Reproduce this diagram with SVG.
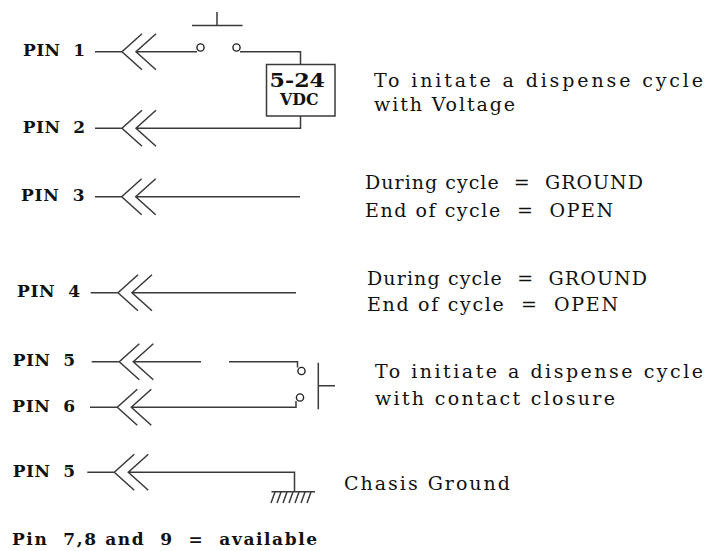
<svg xmlns="http://www.w3.org/2000/svg" width="707" height="551" viewBox="0 0 707 551">
<style>
.w{fill:none;stroke:#3a3a3a;stroke-width:1.5}
.c{fill:#fff;stroke:#222;stroke-width:1.4}
text{font-family:"DejaVu Serif","Liberation Serif",serif;fill:#111}
.p{font-size:17px;font-weight:bold}
.t{font-size:19px}
</style>
<rect width="707" height="551" fill="#fff"/>
<g id="connectors">
<!-- PIN 1 -->
<path class="w" d="M95 51.7H122M142 33.7L122 51.7L142 69.7M156 33.7L136 51.7L156 69.7M136 51.7H197"/>
<path class="w" d="M240 51.7H300.5V64.5M300.5 116V128.3H136M122 128.3H95M142 110.3L122 128.3L142 146.3M156 110.3L136 128.3L156 146.3"/>
<path class="w" d="M192 25.5H242.5M217 12V25.5"/>
<!-- PIN 3 -->
<path class="w" d="M95 196.7H121.7M141.7 178.7L121.7 196.7L141.7 214.7M155.7 178.7L135.7 196.7L155.7 214.7M135.7 196.7H300"/>
<!-- PIN 4 -->
<path class="w" d="M90.7 292.7H118M138 274.7L118 292.7L138 310.7M152 274.7L132 292.7L152 310.7M132 292.7H296"/>
<!-- PIN 5 -->
<path class="w" d="M91.7 361.7H119.3M139.3 343.7L119.3 361.7L139.3 379.7M153.3 343.7L133.3 361.7L153.3 379.7M133.3 361.7H201M229 361.7H297.5V367.5"/>
<!-- PIN 6 -->
<path class="w" d="M90 407.3H117.3M137.3 389.3L117.3 407.3L137.3 425.3M151.3 389.3L131.3 407.3L151.3 425.3M131.3 407.3H296V401"/>
<path class="w" d="M318.3 362.7V409.3M318.3 385.7H335"/>
<!-- PIN 5 ground -->
<path class="w" d="M87.3 472.3H114.3M134.3 454.3L114.3 472.3L134.3 490.3M148.3 454.3L128.3 472.3L148.3 490.3M128.3 472.3H294.5V491.7M271.5 491.7H315"/>
<path class="w" d="M275 492L271 503M281 492L277 503M287 492L283 503M293 492L289 503M299 492L295 503M305 492L301 503M311 492L307 503" stroke-width="1.2"/>
</g>
<g id="switch1">
<circle class="c" cx="200.5" cy="47.5" r="3.6"/>
<circle class="c" cx="236.5" cy="47.5" r="3.6"/>
</g>
<g id="switch2">
<circle class="c" cx="301.5" cy="371" r="3.6"/>
<circle class="c" cx="300" cy="397.5" r="3.6"/>
</g>
<g id="supply">
<rect class="w" x="266.5" y="64.5" width="68.5" height="51.5" fill="#fff"/>
<text x="269.5" y="86.7" textLength="55.5" lengthAdjust="spacingAndGlyphs" style="font-size:18px;font-weight:bold">5-24</text>
<text x="280" y="105" textLength="38.5" lengthAdjust="spacingAndGlyphs" style="font-size:17px;font-weight:bold">VDC</text>
</g>
<g id="labels">
<text class="p" x="23" y="56.2" textLength="62" lengthAdjust="spacing">PIN&#160;&#160;1</text>
<text class="p" x="22.7" y="133" textLength="62.3" lengthAdjust="spacing">PIN&#160;&#160;2</text>
<text class="p" x="21" y="201.3" textLength="63.5" lengthAdjust="spacing">PIN&#160;&#160;3</text>
<text class="p" x="17" y="297.3" textLength="63" lengthAdjust="spacing">PIN&#160;&#160;4</text>
<text class="p" x="12.7" y="366.3" textLength="62.3" lengthAdjust="spacing">PIN&#160;&#160;5</text>
<text class="p" x="12.3" y="412" textLength="62.7" lengthAdjust="spacing">PIN&#160;&#160;6</text>
<text class="p" x="12.7" y="477" textLength="62.3" lengthAdjust="spacing">PIN&#160;&#160;5</text>
</g>
<g id="notes">
<text class="t" x="374" y="87" textLength="329" lengthAdjust="spacing">To initate a dispense cycle</text>
<text class="t" x="374" y="111" textLength="141" lengthAdjust="spacing">with Voltage</text>
<text class="t" x="365" y="189.3" textLength="278" lengthAdjust="spacing">During cycle&#160; =&#160; GROUND</text>
<text class="t" x="365" y="216.7" textLength="248" lengthAdjust="spacing">End of cycle&#160; =&#160; OPEN</text>
<text class="t" x="367" y="285" textLength="280" lengthAdjust="spacing">During cycle&#160; =&#160; GROUND</text>
<text class="t" x="367" y="311" textLength="251" lengthAdjust="spacing">End of cycle&#160; =&#160; OPEN</text>
<text class="t" x="375" y="378.3" textLength="328" lengthAdjust="spacing">To initiate a dispense cycle</text>
<text class="t" x="375" y="405" textLength="240" lengthAdjust="spacing">with contact closure</text>
<text class="t" x="344" y="490" textLength="166" lengthAdjust="spacing">Chasis Ground</text>
<text class="t" x="12" y="545" textLength="305" lengthAdjust="spacing" style="font-weight:bold;font-size:17px">Pin&#160; 7,8 and&#160; 9&#160; =&#160; available</text>
</g>
</svg>
